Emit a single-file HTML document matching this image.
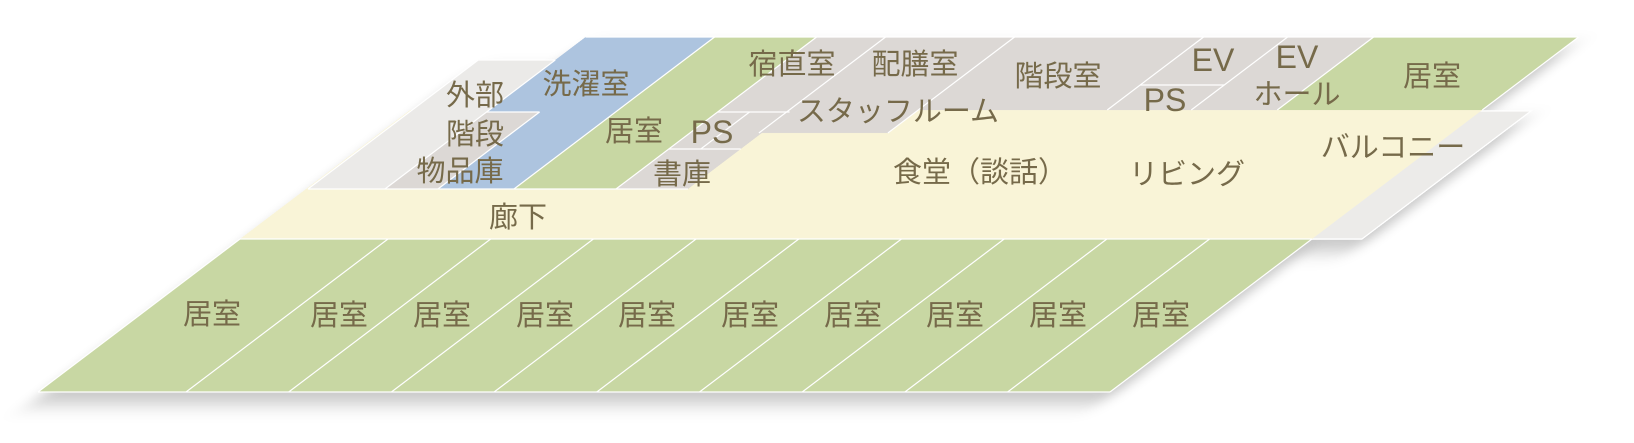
<!DOCTYPE html>
<html><head><meta charset="utf-8">
<style>
html,body{margin:0;padding:0;background:#fff;}
svg{display:block;}
text{font-family:"Liberation Sans","Noto Sans CJK JP",sans-serif;font-size:29px;fill:#766a4a;text-anchor:middle;dominant-baseline:central;}
text.l{font-size:32px;}
</style></head>
<body>
<svg width="1634" height="443" viewBox="0 0 1634 443" xmlns="http://www.w3.org/2000/svg">
<defs>
<filter id="sh" x="-10%" y="-20%" width="130%" height="160%">
<feDropShadow dx="8" dy="12" stdDeviation="9" flood-color="#000" flood-opacity="0.22"/>
</filter>
</defs>
<g transform="matrix(1,0,-1.32,1,517.44,0)">
<g filter="url(#sh)">
<rect x="1108" y="111" width="52" height="128" fill="#ecebe9" stroke="#fff" stroke-width="1.2" vector-effect="non-scaling-stroke"/>
<rect x="38" y="110" width="1072" height="129" fill="#f9f4d7"/>
<rect x="38" y="239" width="1072" height="153" fill="#c8d7a3"/>
<rect x="40" y="60" width="77" height="129" fill="#ebeae8"/>
<rect x="117" y="112" width="53" height="77" fill="#dcd8d5"/>
<polygon points="117,37 246,37 246,189 170,189 170,112 117,112" fill="#adc4df"/>
<rect x="246" y="37" width="102" height="152" fill="#c8d7a3"/>
<polygon points="348,37 905,37 905,110 546,110 546,133 420,133 420,189 348,189" fill="#dcd8d5"/>
<rect x="905" y="37" width="205" height="73" fill="#c8d7a3"/>
</g>
<g stroke="#fff" stroke-width="1.2" fill="none">
<line x1="38" y1="239" x2="1110" y2="239" vector-effect="non-scaling-stroke"/>
<line x1="40" y1="189" x2="420" y2="189" vector-effect="non-scaling-stroke"/>
<line x1="38" y1="392" x2="1110" y2="392" vector-effect="non-scaling-stroke"/>
<line x1="38" y1="239" x2="38" y2="392" vector-effect="non-scaling-stroke"/>
<line x1="40" y1="60" x2="40" y2="189" vector-effect="non-scaling-stroke"/>
<line x1="40" y1="60" x2="117" y2="60" vector-effect="non-scaling-stroke"/>
<line x1="117" y1="37" x2="1110" y2="37" vector-effect="non-scaling-stroke"/>
<line x1="1110" y1="37" x2="1110" y2="110" vector-effect="non-scaling-stroke"/>
<line x1="1110" y1="239" x2="1110" y2="392" vector-effect="non-scaling-stroke"/>
<line x1="117" y1="112" x2="170" y2="112" vector-effect="non-scaling-stroke"/>
<line x1="117" y1="60" x2="117" y2="189" vector-effect="non-scaling-stroke"/>
<line x1="170" y1="112" x2="170" y2="189" vector-effect="non-scaling-stroke"/>
<line x1="246" y1="37" x2="246" y2="189" vector-effect="non-scaling-stroke"/>
<line x1="348" y1="37" x2="348" y2="189" vector-effect="non-scaling-stroke"/>
<line x1="417" y1="37" x2="417" y2="133" vector-effect="non-scaling-stroke"/>
<line x1="546" y1="37" x2="546" y2="133" vector-effect="non-scaling-stroke"/>
<line x1="735" y1="37" x2="735" y2="110" vector-effect="non-scaling-stroke"/>
<line x1="819" y1="37" x2="819" y2="110" vector-effect="non-scaling-stroke"/>
<line x1="905" y1="37" x2="905" y2="110" vector-effect="non-scaling-stroke"/>
<line x1="735" y1="85" x2="819" y2="85" vector-effect="non-scaling-stroke"/>
<line x1="348" y1="112" x2="420" y2="112" vector-effect="non-scaling-stroke"/>
<line x1="348" y1="149" x2="420" y2="149" vector-effect="non-scaling-stroke"/>
<line x1="380" y1="112" x2="380" y2="149" vector-effect="non-scaling-stroke"/>
<line x1="186" y1="239" x2="186" y2="392" vector-effect="non-scaling-stroke"/>
<line x1="288.7" y1="239" x2="288.7" y2="392" vector-effect="non-scaling-stroke"/>
<line x1="391.4" y1="239" x2="391.4" y2="392" vector-effect="non-scaling-stroke"/>
<line x1="494.1" y1="239" x2="494.1" y2="392" vector-effect="non-scaling-stroke"/>
<line x1="596.8" y1="239" x2="596.8" y2="392" vector-effect="non-scaling-stroke"/>
<line x1="699.5" y1="239" x2="699.5" y2="392" vector-effect="non-scaling-stroke"/>
<line x1="802.2" y1="239" x2="802.2" y2="392" vector-effect="non-scaling-stroke"/>
<line x1="904.9" y1="239" x2="904.9" y2="392" vector-effect="non-scaling-stroke"/>
<line x1="1007.6" y1="239" x2="1007.6" y2="392" vector-effect="non-scaling-stroke"/>
</g>
</g>
<text x="212" y="315">居室</text>
<text x="339" y="316">居室</text>
<text x="442" y="316">居室</text>
<text x="545" y="316">居室</text>
<text x="647" y="316">居室</text>
<text x="750" y="316">居室</text>
<text x="853" y="316">居室</text>
<text x="955" y="316">居室</text>
<text x="1058" y="316">居室</text>
<text x="1161" y="316">居室</text>
<text x="518" y="218">廊下</text>
<text x="475" y="96">外部</text>
<text x="475" y="135">階段</text>
<text x="460" y="172">物品庫</text>
<text x="586" y="85">洗濯室</text>
<text x="634" y="132">居室</text>
<text class="l" x="712" y="132">PS</text>
<text x="682" y="175">書庫</text>
<text x="792" y="65">宿直室</text>
<text x="915" y="65">配膳室</text>
<text x="898" y="112">スタッフルーム</text>
<text x="1058" y="77">階段室</text>
<text class="l" x="1213" y="60">EV</text>
<text class="l" x="1165" y="100">PS</text>
<text class="l" x="1297" y="57">EV</text>
<text x="1297" y="95">ホール</text>
<text x="1432" y="77">居室</text>
<text x="980" y="173">食堂（談話）</text>
<text x="1187" y="175">リビング</text>
<text x="1393" y="148">バルコニー</text>
</svg>
</body></html>
